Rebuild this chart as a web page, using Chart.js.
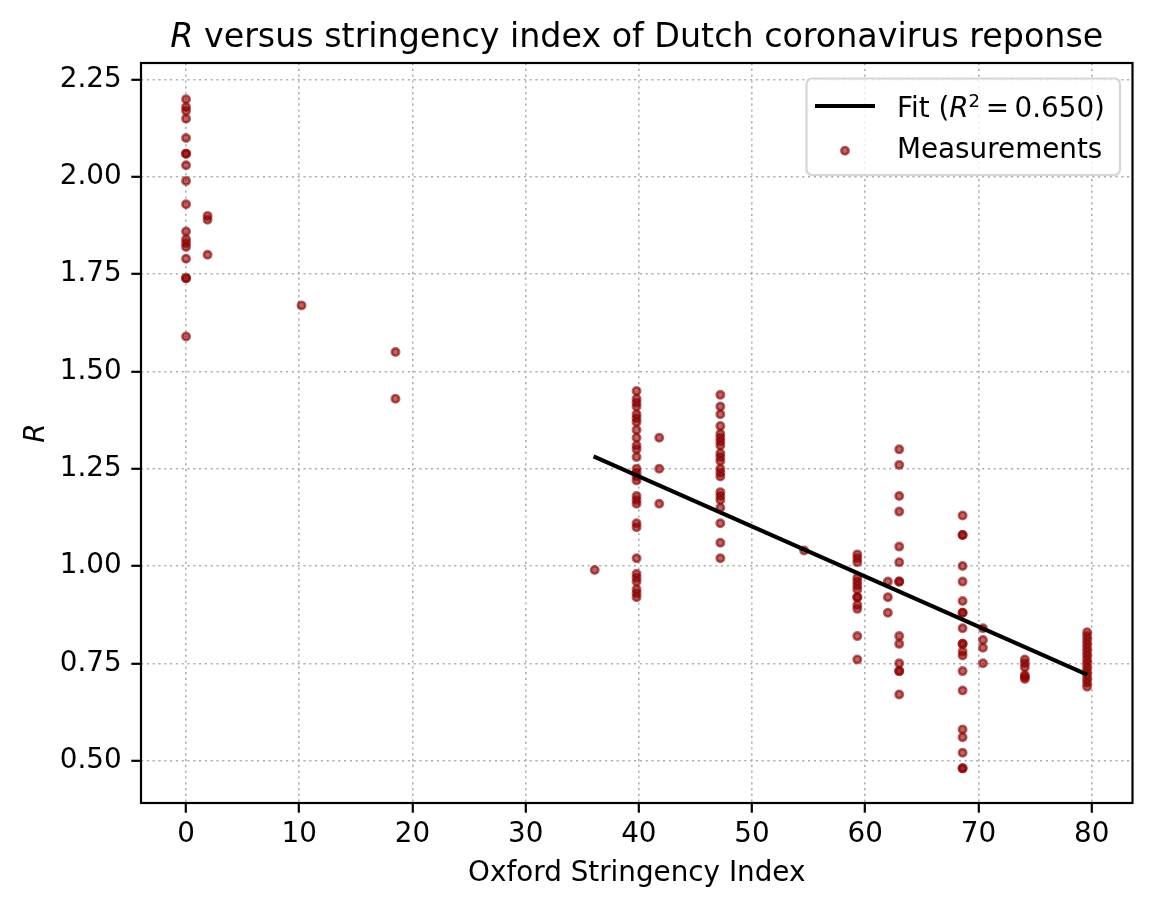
<!DOCTYPE html>
<html>
<head>
<meta charset="utf-8">
<title>R versus stringency index</title>
<script src="https://cdn.jsdelivr.net/npm/chart.js@4.4.0/dist/chart.umd.min.js"></script>
<style>
  html, body { margin: 0; padding: 0; background: #fff; }
  #chart { display: block; }
</style>
</head>
<body>
<canvas id="chart" width="1156" height="910"></canvas>
<script>
// Stringency levels (x) and the R values measured at each level
const stringency = [0, 1.9, 10.2, 18.5, 36.1, 39.8, 41.8, 47.2, 54.6, 59.3, 62.0, 63.0, 68.6, 70.4, 74.1, 79.6];
const rValues = [
  [2.20, 2.18, 2.17, 2.15, 2.10, 2.06, 2.06, 2.03, 1.99, 1.93, 1.86, 1.84, 1.83, 1.82, 1.79, 1.74, 1.74, 1.59],
  [1.90, 1.89, 1.80],
  [1.67],
  [1.55, 1.43],
  [0.99],
  [1.45, 1.43, 1.42, 1.41, 1.39, 1.38, 1.37, 1.35, 1.33, 1.31, 1.30, 1.28, 1.25, 1.24, 1.23, 1.22, 1.18, 1.17, 1.16, 1.11, 1.10, 1.02, 0.98, 0.97, 0.96, 0.94, 0.93, 0.92],
  [1.33, 1.25, 1.16],
  [1.44, 1.41, 1.39, 1.36, 1.34, 1.33, 1.32, 1.31, 1.29, 1.28, 1.27, 1.25, 1.24, 1.23, 1.19, 1.18, 1.17, 1.15, 1.11, 1.06, 1.02],
  [1.04],
  [1.03, 1.02, 1.01, 0.97, 0.96, 0.95, 0.94, 0.92, 0.92, 0.90, 0.89, 0.82, 0.76],
  [0.96, 0.92, 0.88],
  [1.30, 1.26, 1.18, 1.14, 1.05, 1.01, 0.96, 0.96, 0.82, 0.80, 0.75, 0.73, 0.73, 0.67],
  [1.13, 1.08, 1.08, 1.00, 0.96, 0.91, 0.88, 0.88, 0.84, 0.80, 0.80, 0.78, 0.77, 0.73, 0.68, 0.58, 0.56, 0.52, 0.48, 0.48],
  [0.84, 0.81, 0.79, 0.75],
  [0.76, 0.75, 0.74, 0.72, 0.715, 0.71],
  [0.83, 0.82, 0.81, 0.80, 0.79, 0.78, 0.77, 0.76, 0.75, 0.74, 0.73, 0.72, 0.71, 0.70, 0.69]
];

// Linear fit, drawn between the lowest and highest fitted stringency
const fitX = [36.0, 79.6];
const fitR = [1.282, 0.721];
const fitR2 = '0.650';

const xTicks = [0, 10, 20, 30, 40, 50, 60, 70, 80];
const yTicks = [0.50, 0.75, 1.00, 1.25, 1.50, 1.75, 2.00, 2.25];

const FONT = '"DejaVu Sans", sans-serif';
const PT10 = 27.8;
const PT12 = 33.3;
const POINT_COLOR = 'rgba(139, 0, 0, 0.6)';

// Build the point list for the scatter
const measurements = [];
stringency.forEach(function (x, i) {
  rValues[i].forEach(function (r) {
    measurements.push({ x: x, y: r });
  });
});
const fitLine = fitX.map(function (x, i) { return { x: x, y: fitR[i] }; });

// Draw a run of [text, font, dy] pieces starting at x
function drawPieces(ctx, pieces, x, y) {
  pieces.forEach(function (p) {
    ctx.font = p[1];
    ctx.fillText(p[0], x, y + (p[2] || 0));
    x += ctx.measureText(p[0]).width;
  });
  return x;
}
function piecesWidth(ctx, pieces) {
  let w = 0;
  pieces.forEach(function (p) {
    ctx.font = p[1];
    w += ctx.measureText(p[0]).width;
  });
  return w;
}

const decorPlugin = {
  id: 'decor',
  afterDatasetsDraw: function (chart) {
    const ctx = chart.ctx;
    const a = chart.chartArea;
    // axes frame
    ctx.save();
    ctx.strokeStyle = '#000';
    ctx.lineWidth = 2.2;
    ctx.strokeRect(a.left, a.top, a.right - a.left, a.bottom - a.top);
    ctx.restore();
  },
  afterDraw: function (chart) {
    const ctx = chart.ctx;
    const a = chart.chartArea;
    ctx.save();
    ctx.fillStyle = '#000';
    ctx.textBaseline = 'alphabetic';

    // title
    const title = [
      ['R', 'italic ' + PT12 + 'px ' + FONT],
      [' versus stringency index of Dutch coronavirus reponse', PT12 + 'px ' + FONT]
    ];
    const tw = piecesWidth(ctx, title);
    drawPieces(ctx, title, (a.left + a.right) / 2 - tw / 2, 47);

    // legend box
    const bx = 806.5, by = 78.5, bw = 313.5, bh = 96.5, rad = 5.5;
    ctx.beginPath();
    ctx.roundRect(bx, by, bw, bh, rad);
    ctx.fillStyle = 'rgba(255,255,255,0.8)';
    ctx.fill();
    ctx.strokeStyle = 'rgba(204,204,204,0.8)';
    ctx.lineWidth = 2.2;
    ctx.stroke();

    const fit = chart.data.datasets[0];
    const meas = chart.data.datasets[1];

    ctx.beginPath();
    ctx.moveTo(815, 106);
    ctx.lineTo(875, 106);
    ctx.strokeStyle = fit.borderColor;
    ctx.lineWidth = fit.borderWidth;
    ctx.stroke();

    ctx.beginPath();
    ctx.arc(845, 150.7, meas.pointRadius, 0, Math.PI * 2);
    ctx.fillStyle = meas.backgroundColor;
    ctx.fill();
    ctx.strokeStyle = meas.borderColor;
    ctx.lineWidth = meas.borderWidth;
    ctx.stroke();

    ctx.fillStyle = '#000';
    const norm = PT10 + 'px ' + FONT;
    drawPieces(ctx, [
      ['Fit (', norm],
      ['R', 'italic ' + PT10 + 'px ' + FONT],
      ['2', (PT10 * 0.65).toFixed(1) + 'px ' + FONT, -9.5],
      ['\u2009=\u2009' + fitR2 + ')', norm]
    ], 897, 116.5);
    drawPieces(ctx, [['Measurements', norm]], 897, 157.5);
    ctx.restore();
  }
};

const gridOpts = {
  color: '#b0b0b0',
  lineWidth: 1.6,
  tickColor: '#000',
  tickLength: 9.7,
  tickWidth: 2.2,
  tickBorderDash: []
};
const borderOpts = { display: false, dash: [2.2, 3.6] };

new Chart(document.getElementById('chart'), {
  type: 'scatter',
  data: {
    datasets: [
      {
        type: 'line',
        label: 'Fit',
        data: fitLine,
        borderColor: '#000',
        borderWidth: 4.2,
        pointRadius: 0,
        fill: false,
        order: 0
      },
      {
        label: 'Measurements',
        data: measurements,
        backgroundColor: POINT_COLOR,
        borderColor: POINT_COLOR,
        borderWidth: 2.6,
        pointRadius: 3.7,
        order: 1
      }
    ]
  },
  options: {
    responsive: false,
    devicePixelRatio: 1,
    animation: false,
    layout: { padding: { top: 63, right: 23.5, left: 0, bottom: 0 } },
    plugins: {
      legend: { display: false },
      title: { display: false },
      tooltip: { enabled: false }
    },
    scales: {
      x: {
        type: 'linear',
        min: -3.98,
        max: 83.61,
        afterBuildTicks: function (s) { s.ticks = xTicks.map(function (v) { return { value: v }; }); },
        afterFit: function (s) { s.height = 107; },
        grid: gridOpts,
        border: borderOpts,
        ticks: {
          color: '#000',
          font: { family: FONT, size: PT10 },
          padding: 5.6,
          maxRotation: 0,
          callback: function (v) { return String(v); }
        },
        title: {
          display: true,
          text: 'Oxford Stringency Index',
          color: '#000',
          font: { family: FONT, size: PT10 },
          padding: { top: 20, bottom: 20 }
        }
      },
      y: {
        type: 'linear',
        min: 0.391,
        max: 2.293,
        afterBuildTicks: function (s) { s.ticks = yTicks.map(function (v) { return { value: v }; }); },
        afterFit: function (s) { s.width = 141; },
        grid: gridOpts,
        border: borderOpts,
        ticks: {
          color: '#000',
          font: { family: FONT, size: PT10 },
          padding: 9.7,
          callback: function (v) { return Number(v).toFixed(2); }
        },
        title: {
          display: true,
          text: 'R',
          color: '#000',
          font: { family: FONT, size: PT10, style: 'italic' },
          padding: { top: 20, bottom: 20 }
        }
      }
    }
  },
  plugins: [decorPlugin]
});
</script>
</body>
</html>
